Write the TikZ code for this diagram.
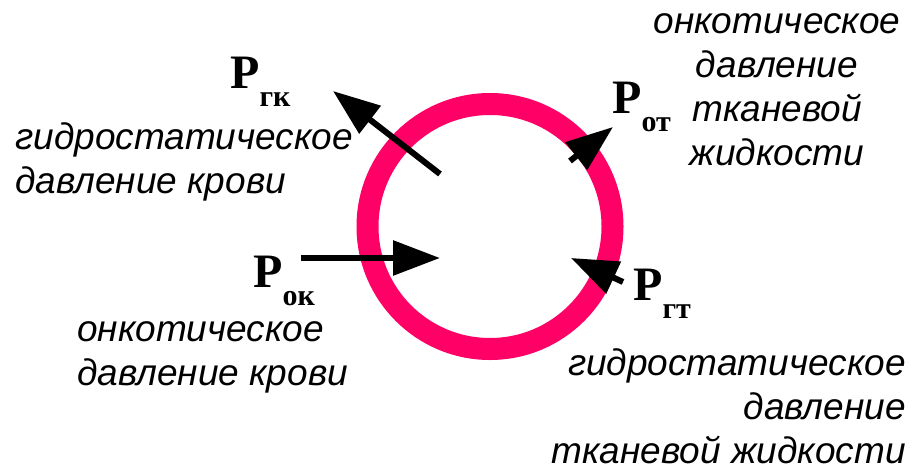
\documentclass[tikz,border=0pt]{standalone}
\usepackage{fontspec}
\setmainfont{Liberation Serif}
\newfontfamily\sansfam{Liberation Sans}
\usetikzlibrary{arrows.meta}
\definecolor{wall}{HTML}{FF0066}
\tikzset{
  wallring/.style={draw=wall,line width=22pt},
  parr/.style={-{Triangle[length=47pt,width=34pt]},line width=6pt,draw=black},
  desc/.style={font=\sansfam\itshape\fontsize{37}{44}\selectfont,inner sep=0pt},
  plab/.style={font=\bfseries\fontsize{48}{48}\selectfont,inner sep=0pt,anchor=base west},
}
\newcommand{\pres}[1]{P\raisebox{-18pt}{\fontsize{30}{30}\selectfont #1}}

\begin{document}
\begin{tikzpicture}[x=1pt,y=-1pt]
\useasboundingbox (0,0) rectangle (918,474);
% capillary wall
\node[circle,minimum size=245pt,wallring] (cell) at (490,226.5) {};
% arrow ends
\coordinate (gkTail) at (440,174);  \coordinate (gkTip) at (333,91);
\coordinate (otTail) at (570,161);  \coordinate (otTip) at (613,127);
\coordinate (okTail) at (301,258);  \coordinate (okTip) at (440,258);
\coordinate (gtTail) at (623,282);  \coordinate (gtTip) at (571,258);
\draw[parr] (gkTail) -- (gkTip);
\draw[parr] (otTail) -- (otTip);
\draw[parr] (okTail) -- (okTip);
\draw[parr] (gtTail) -- (gtTip);
% pressure symbols
\node[plab] (Pgk) at (230,88) {\pres{гк}};
\node[plab] (Pot) at (612,113) {\pres{от}};
\node[plab] (Pok) at (253,287) {\pres{ок}};
\node[plab] (Pgt) at (633,300) {\pres{гт}};
% descriptions (base = last line)
\node[desc,anchor=base west,align=left] (gkText) at (15,193) {гидростатическое\\давление крови};
\node[desc,anchor=base,align=center] (otText) at (777,165) {онкотическое\\давление\\тканевой\\жидкости};
\node[desc,anchor=base west,align=left] (okText) at (77,385) {онкотическое\\давление крови};
\node[desc,anchor=base east,align=right] (gtText) at (906,463) {гидростатическое\\давление\\тканевой жидкости};
\end{tikzpicture}
\end{document}
